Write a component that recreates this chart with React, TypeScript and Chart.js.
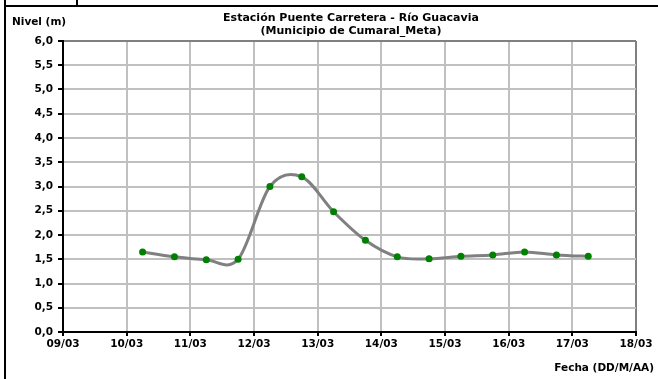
import React, { useEffect, useRef } from "react";
import { Chart, registerables } from "chart.js";

Chart.register(...registerables);

// ---- Data ----
const fechas = [
  "10/03 06:00", "10/03 18:00",
  "11/03 06:00", "11/03 18:00",
  "12/03 06:00", "12/03 18:00",
  "13/03 06:00", "13/03 18:00",
  "14/03 06:00", "14/03 18:00",
  "15/03 06:00", "15/03 18:00",
  "16/03 06:00", "16/03 18:00",
  "17/03 06:00",
];
const niveles = [1.65, 1.55, 1.49, 1.5, 3.0, 3.2, 2.48, 1.89, 1.55, 1.51, 1.56, 1.59, 1.65, 1.59, 1.56];
const xTickLabels = ["09/03", "10/03", "11/03", "12/03", "13/03", "14/03", "15/03", "16/03", "17/03", "18/03"];
const startDay = 9;
const titleLines = ["Estación Puente Carretera - Río Guacavia", "(Municipio de Cumaral_Meta)"];
const yAxisTitle = "Nivel (m)";
const xAxisTitle = "Fecha (DD/M/AA)";

const FONT_FAMILY = '"DejaVu Sans", "Liberation Sans", Arial, sans-serif';

function toDay(s: string): number {
  const [d, t] = s.split(" ");
  const dd = parseInt(d.split("/")[0], 10);
  const [hh, mm] = t.split(":").map((v) => parseInt(v, 10));
  return dd - startDay + (hh + mm / 60) / 24;
}

const W = 658;
const H = 379;

export default function App() {
  const ref = useRef<HTMLCanvasElement | null>(null);

  useEffect(() => {
    const canvas = ref.current;
    if (!canvas) return;
    const points = fechas.map((f, i) => ({ x: toDay(f), y: niveles[i] }));

    // Excel-like smoothing: control handles = (next - prev) / 6
    const smoothPlugin = {
      id: "excelSmooth",
      beforeDatasetDraw(chart: any, args: any) {
        const meta = chart.getDatasetMeta(args.index);
        const line = meta.dataset;
        if (!line) return;
        line.updateControlPoints(chart.chartArea, "x");
        const pts = meta.data;
        for (let i = 0; i < pts.length; i++) {
          const p = pts[i];
          const prev = pts[i - 1] || p;
          const next = pts[i + 1] || p;
          const dx = (next.x - prev.x) / 6;
          const dy = (next.y - prev.y) / 6;
          p.cp1x = p.x - dx;
          p.cp1y = p.y - dy;
          p.cp2x = p.x + dx;
          p.cp2y = p.y + dy;
        }
      },
    };

    const framePlugin = {
      id: "framePlugin",
      beforeDraw(chart: any) {
        const ctx = chart.ctx;
        ctx.save();
        ctx.fillStyle = "#ffffff";
        ctx.fillRect(0, 0, W, H);
        ctx.strokeStyle = "#000000";
        ctx.lineWidth = 2;
        ctx.beginPath();
        ctx.moveTo(5, 0);
        ctx.lineTo(5, H);
        ctx.moveTo(4, 6);
        ctx.lineTo(W, 6);
        ctx.moveTo(77, 0);
        ctx.lineTo(77, 5);
        ctx.stroke();
        ctx.restore();
      },
      afterDraw(chart: any) {
        const ctx = chart.ctx;
        ctx.save();
        ctx.fillStyle = "#000000";
        ctx.textBaseline = "middle";
        ctx.font = `bold 11px ${FONT_FAMILY}`;
        ctx.textAlign = "center";
        ctx.fillText(titleLines[0], 351, 18);
        ctx.fillText(titleLines[1], 351, 31);
        ctx.font = `bold 10.5px ${FONT_FAMILY}`;
        ctx.textAlign = "left";
        ctx.fillText(yAxisTitle, 12, 22);
        ctx.textAlign = "right";
        ctx.fillText(xAxisTitle, 654, 368);
        ctx.restore();
      },
    };

    const chart = new Chart(canvas, {
      type: "line",
      data: {
        datasets: [
          {
            data: points,
            borderColor: "#808080",
            borderWidth: 3,
            tension: 0.4,
            pointBackgroundColor: "#008000",
            pointBorderColor: "#008000",
            pointBorderWidth: 0,
            pointRadius: 3.5,
            fill: false,
          },
        ],
      },
      options: {
        responsive: false,
        animation: false,
        devicePixelRatio: 1,
        layout: { padding: { left: 0, top: 41, right: 22, bottom: 0 } },
        plugins: {
          legend: { display: false },
          title: { display: false },
          tooltip: { enabled: false },
        },
        scales: {
          x: {
            type: "linear",
            min: 0,
            max: 9,
            afterFit(scale: any) {
              scale.height = H - 332;
            },
            ticks: {
              stepSize: 1,
              autoSkip: false,
              maxRotation: 0,
              color: "#000000",
              padding: 2,
              font: { family: FONT_FAMILY, size: 10.5, weight: "bold" },
              callback: (v: any) => xTickLabels[Math.round(Number(v))] ?? "",
            },
            grid: {
              color: (c: any) => (c.tick && c.tick.value === 9 ? "#808080" : "#c0c0c0"),
              lineWidth: 2,
              tickColor: "#000000",
              tickLength: 4,
            },
            border: { color: "#000000", width: 2 },
          },
          y: {
            min: 0,
            max: 6,
            afterFit(scale: any) {
              scale.width = 63;
            },
            ticks: {
              stepSize: 0.5,
              color: "#000000",
              padding: 5,
              font: { family: FONT_FAMILY, size: 10.5, weight: "bold" },
              callback: (v: any) => Number(v).toFixed(1).replace(".", ","),
            },
            grid: {
              color: (c: any) => (c.tick && c.tick.value === 6 ? "#808080" : "#c0c0c0"),
              lineWidth: 2,
              tickColor: "#000000",
              tickLength: 5,
            },
            border: { color: "#000000", width: 2 },
          },
        },
      },
      plugins: [framePlugin, smoothPlugin],
    } as any);

    return () => chart.destroy();
  }, []);

  return (
    <div style={{ position: "absolute", left: 0, top: 0, width: W, height: H, background: "#fff" }}>
      <canvas ref={ref} width={W} height={H} style={{ display: "block", width: W, height: H }} />
    </div>
  );
}
